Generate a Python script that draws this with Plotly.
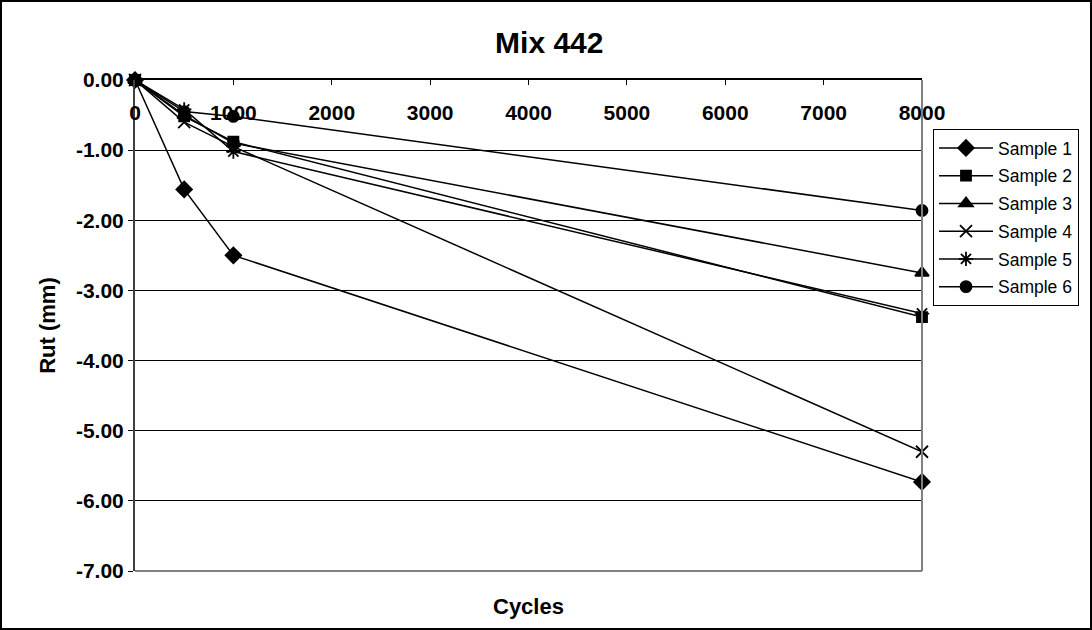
import plotly.graph_objects as go

# Rut depth (mm) measured at each cycle count, one list per sample
cycles = [0, 500, 1000, 8000]
sample_1 = [0.0, -1.56, -2.50, -5.73]
sample_2 = [0.0, -0.52, -0.88, -3.38]
sample_3 = [0.0, -0.50, -0.90, -2.75]
sample_4 = [0.0, -0.60, -0.95, -5.30]
sample_5 = [0.0, -0.42, -1.02, -3.33]
sample_6 = [0.0, -0.45, -0.52, -1.86]

series_names = ["Sample 1", "Sample 2", "Sample 3", "Sample 4", "Sample 5", "Sample 6"]
series_values = [sample_1, sample_2, sample_3, sample_4, sample_5, sample_6]

x_ticks = [0, 1000, 2000, 3000, 4000, 5000, 6000, 7000, 8000]
y_ticks = [0, -1, -2, -3, -4, -5, -6, -7]
y_tick_text = ["0.00", "-1.00", "-2.00", "-3.00", "-4.00", "-5.00", "-6.00", "-7.00"]

symbols = ["diamond", "square", "triangle-up", "x-thin-open", "asterisk-open", "circle"]
sizes = [12, 10, 12, 12, 12, 11]

W, H = 1092, 630
L, R, T, B = 135, 170, 80, 59
PW, PH = W - L - R, H - T - B

fig = go.Figure()
for name, vals, sym, sz in zip(series_names, series_values, symbols, sizes):
    fig.add_trace(go.Scatter(
        x=cycles, y=vals, name=name, mode="lines+markers",
        line=dict(color="black", width=1.5),
        marker=dict(symbol=sym, size=sz, color="black",
                    line=dict(color="black", width=1.8)),
        cliponaxis=False, legendgroup=name,
    ))

# invisible carrier for the label-only x axis that sits under the zero line
fig.add_trace(go.Scatter(x=cycles, y=sample_1, xaxis="x2", yaxis="y",
                         mode="lines", opacity=0, showlegend=False,
                         hoverinfo="skip"))

font_family = "Liberation Sans, Arial, sans-serif"
bold_tick = dict(size=21, family=font_family, color="black", weight="bold")

fig.update_layout(
    width=W, height=H,
    margin=dict(l=L, r=R, t=T, b=B),
    paper_bgcolor="white", plot_bgcolor="white",
    font=dict(family=font_family, color="black"),
    title=dict(text="<b>Mix 442</b>", x=0.503, xanchor="center",
               y=1 - 42 / H, yanchor="middle", font=dict(size=30)),
    showlegend=True,
    legend=dict(x=(933 - L) / PW, y=(H - B - 129) / PH, xanchor="left", yanchor="top",
                bordercolor="black", borderwidth=1, bgcolor="white",
                font=dict(size=17.5), tracegroupgap=2, itemwidth=54,
                traceorder="grouped"),
    # axis line along y = 0 with downward tick marks
    xaxis=dict(range=[0, 8000], side="top", tickvals=x_ticks,
               ticks="inside", ticklen=5, tickcolor="black",
               showticklabels=False,
               showline=True, linecolor="black", linewidth=1.5,
               showgrid=False, zeroline=False),
    # tick labels placed just under the zero line
    xaxis2=dict(matches="x", overlaying="x", anchor="free",
                position=(H - B - 98) / PH, side="bottom",
                tickvals=x_ticks, ticks="", showline=False,
                showgrid=False, zeroline=False, tickfont=bold_tick),
    yaxis=dict(range=[-7, 0], tickvals=y_ticks, ticktext=y_tick_text,
               ticks="outside", ticklen=5, tickcolor="black",
               tickfont=bold_tick,
               showline=True, linecolor="#404040", linewidth=2,
               showgrid=True, gridcolor="black", gridwidth=1,
               zeroline=False,
               title=dict(text="<b>Rut (mm)</b>", font=dict(size=22), standoff=14)),
)

# x-axis title below the plot area
fig.add_annotation(text="<b>Cycles</b>", xref="paper", yref="paper",
                   x=0.5, y=-(606 - (H - B)) / PH, xanchor="center", yanchor="middle",
                   showarrow=False, font=dict(size=22))

# gray right and bottom edges of the plot area
fig.add_shape(type="line", xref="paper", yref="paper", x0=1, x1=1, y0=0, y1=1,
              line=dict(color="#808080", width=2))
fig.add_shape(type="line", xref="paper", yref="paper", x0=0, x1=1, y0=0, y1=0,
              line=dict(color="#808080", width=2))

# outer chart frame
fig.add_shape(type="rect", xref="paper", yref="paper",
              x0=-(L - 1) / PW, x1=(W - L - 1) / PW,
              y0=-(B - 1) / PH, y1=(H - B - 1) / PH,
              line=dict(color="black", width=2), layer="above")

fig.write_html("out.html")
